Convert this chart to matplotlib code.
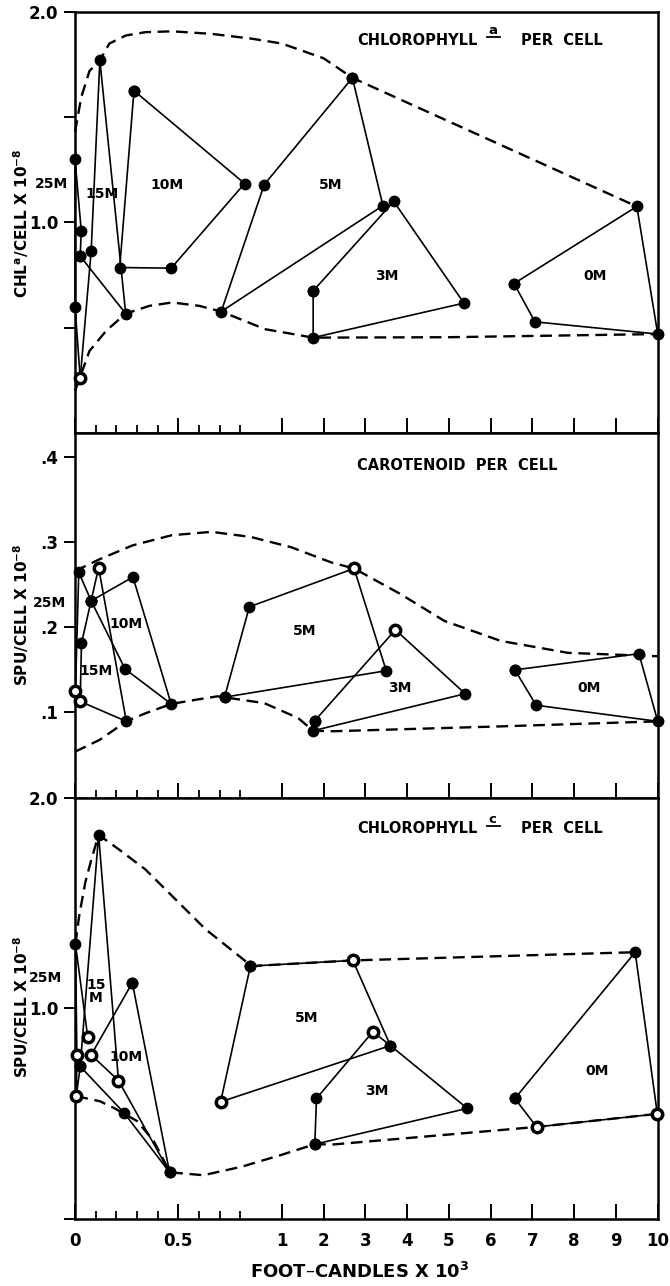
import numpy as np
import matplotlib
matplotlib.use("Agg")
import matplotlib.pyplot as plt

plt.rcParams['font.family'] = ['DejaVu Sans']
plt.rcParams['mathtext.fontset'] = 'dejavusans'

# ---------------- data (foot-candles x 10^3, per cell x 10^-8) ----------------
# chlorophyll a per cell
chla_25m_x = [0.025, 0.03, 0.0, 0.0, 0.025]
chla_25m_y = [0.84, 0.96, 1.30, 0.60, 0.26]
chla_15m_x = [0.025, 0.078, 0.12, 0.245, 0.025]
chla_15m_y = [0.26, 0.865, 1.77, 0.567, 0.84]
chla_10m_x = [0.285, 0.82, 0.465, 0.216, 0.285]
chla_10m_y = [1.626, 1.185, 0.783, 0.786, 1.626]
chla_5m_x = [2.69, 3.42, 0.707, 0.915, 2.69]
chla_5m_y = [1.687, 1.08, 0.577, 1.18, 1.687]
chla_3m_x = [1.75, 1.75, 5.36, 3.68, 1.75]
chla_3m_y = [0.675, 0.453, 0.617, 1.10, 0.675]
chla_0m_x = [6.56, 9.50, 10.0, 7.06, 6.56]
chla_0m_y = [0.71, 1.076, 0.47, 0.528, 0.71]
chla_hollow_x = [0.025]
chla_hollow_y = [0.26]
chla_upper_x = [0.0, 0.03, 0.07, 0.12, 0.166, 0.245, 0.34, 0.47, 0.66, 0.855, 1.0, 2.0, 2.69, 9.5]
chla_upper_y = [1.43, 1.595, 1.72, 1.77, 1.85, 1.888, 1.904, 1.908, 1.896, 1.873, 1.85, 1.78, 1.687, 1.076]
chla_lower_x = [0.0, 0.07, 0.15, 0.245, 0.36, 0.47, 0.6, 0.707, 0.92, 1.75, 5.0, 10.0]
chla_lower_y = [0.20, 0.39, 0.485, 0.567, 0.604, 0.62, 0.604, 0.577, 0.493, 0.453, 0.455, 0.47]

# carotenoid per cell
car_25m_x = [0.002, 0.018, 0.078]
car_25m_y = [0.125, 0.2645, 0.231]
car_15m_x = [0.114, 0.248, 0.025, 0.031, 0.114]
car_15m_y = [0.270, 0.0896, 0.113, 0.181, 0.270]
car_10m_x = [0.078, 0.28, 0.465, 0.242, 0.078]
car_10m_y = [0.231, 0.259, 0.110, 0.151, 0.231]
car_5m_x = [0.723, 0.843, 2.73, 3.50, 0.723]
car_5m_y = [0.118, 0.224, 0.269, 0.149, 0.118]
car_3m_x = [1.79, 3.72, 5.39, 1.75, 1.79]
car_3m_y = [0.0904, 0.197, 0.122, 0.0786, 0.0904]
car_0m_x = [6.58, 9.55, 10.0, 7.09, 6.58]
car_0m_y = [0.150, 0.169, 0.0896, 0.1085, 0.150]
car_hollow_x = [0.114, 0.002, 0.025, 2.73, 3.72]
car_hollow_y = [0.270, 0.125, 0.113, 0.269, 0.197]
car_upper_x = [0.0, 0.12, 0.277, 0.467, 0.66, 0.85, 1.22, 2.19, 2.73, 3.84, 4.89, 6.24, 7.85, 10.0]
car_upper_y = [0.266, 0.28, 0.296, 0.308, 0.312, 0.306, 0.294, 0.276, 0.269, 0.239, 0.2075, 0.184, 0.170, 0.166]
car_lower_x = [0.0, 0.12, 0.248, 0.34, 0.465, 0.6, 0.69, 0.915, 1.39, 1.75, 2.23, 6.24, 10.0]
car_lower_y = [0.054, 0.068, 0.0896, 0.099, 0.110, 0.1156, 0.119, 0.111, 0.0935, 0.0786, 0.078, 0.0837, 0.0896]

# chlorophyll c per cell
chlc_25m_x = [0.061, 0.002, 0.009, 0.006, 0.025]
chlc_25m_y = [0.867, 1.306, 0.78, 0.584, 0.725]
chlc_15m_x = [0.21, 0.114, 0.025, 0.237, 0.457]
chlc_15m_y = [0.658, 1.824, 0.725, 0.505, 0.223]
chlc_10m_x = [0.277, 0.078, 0.21, 0.457, 0.277]
chlc_10m_y = [1.122, 0.78, 0.658, 0.223, 1.122]
chlc_5m_x = [0.848, 0.704, 3.60, 2.70, 0.848]
chlc_5m_y = [1.201, 0.557, 0.824, 1.228, 1.201]
chlc_3m_x = [1.79, 1.83, 3.18, 3.60, 5.44, 1.79]
chlc_3m_y = [0.356, 0.573, 0.89, 0.824, 0.526, 0.356]
chlc_0m_x = [6.58, 9.46, 9.99, 7.10, 6.58]
chlc_0m_y = [0.573, 1.267, 0.50, 0.438, 0.573]
chlc_hollow_x = [0.061, 0.009, 0.078, 0.006, 0.21, 0.704, 2.70, 3.18, 7.10, 9.99]
chlc_hollow_y = [0.867, 0.78, 0.78, 0.584, 0.658, 0.557, 1.228, 0.89, 0.438, 0.50]
chlc_upper_x = [0.002, 0.02, 0.05, 0.08, 0.114, 0.213, 0.34, 0.63, 0.83, 0.848, 2.70, 9.46]
chlc_upper_y = [1.306, 1.44, 1.6, 1.71, 1.824, 1.754, 1.66, 1.377, 1.22, 1.201, 1.228, 1.267]
chlc_lower_x = [0.006, 0.12, 0.186, 0.30, 0.38, 0.43, 0.457, 0.62, 0.805, 0.99, 1.79, 2.24, 7.10, 9.99]
chlc_lower_y = [0.584, 0.56, 0.529, 0.466, 0.372, 0.278, 0.223, 0.209, 0.249, 0.303, 0.356, 0.355, 0.438, 0.50]

xtick_major = [0, 0.5, 1, 2, 3, 4, 5, 6, 7, 8, 9, 10]
xtick_labels = ['0', '0.5', '1', '2', '3', '4', '5', '6', '7', '8', '9', '10']
xtick_minor = [0.1, 0.2, 0.3, 0.4, 0.6, 0.7, 0.8]

# x axis: 0-1 stretched, 1-10 compressed
K = 0.202


def fwd(x):
    x = np.asarray(x, dtype=float)
    return np.where(x <= 1, x, 1 + (x - 1) * K)


def inv(u):
    u = np.asarray(u, dtype=float)
    return np.where(u <= 1, u, 1 + (u - 1) / K)


fig = plt.figure(figsize=(6.7, 12.86), dpi=100)
ax1 = fig.add_axes([0.112, 0.6633, 0.8697, 0.3274])
ax2 = fig.add_axes([0.112, 0.3797, 0.8697, 0.2836])
ax3 = fig.add_axes([0.112, 0.0519, 0.8697, 0.3278])

panels = [
    (ax1, [(chla_25m_x, chla_25m_y), (chla_15m_x, chla_15m_y), (chla_10m_x, chla_10m_y),
           (chla_5m_x, chla_5m_y), (chla_3m_x, chla_3m_y), (chla_0m_x, chla_0m_y)],
     (chla_hollow_x, chla_hollow_y), [(chla_upper_x, chla_upper_y), (chla_lower_x, chla_lower_y)]),
    (ax2, [(car_25m_x, car_25m_y), (car_15m_x, car_15m_y), (car_10m_x, car_10m_y),
           (car_5m_x, car_5m_y), (car_3m_x, car_3m_y), (car_0m_x, car_0m_y)],
     (car_hollow_x, car_hollow_y), [(car_upper_x, car_upper_y), (car_lower_x, car_lower_y)]),
    (ax3, [(chlc_25m_x, chlc_25m_y), (chlc_15m_x, chlc_15m_y), (chlc_10m_x, chlc_10m_y),
           (chlc_5m_x, chlc_5m_y), (chlc_3m_x, chlc_3m_y), (chlc_0m_x, chlc_0m_y)],
     (chlc_hollow_x, chlc_hollow_y), [(chlc_upper_x, chlc_upper_y), (chlc_lower_x, chlc_lower_y)]),
]

for ax, series, hollow, envelope in panels:
    ax.set_xscale('function', functions=(fwd, inv))
    ax.set_xlim(0, 10)
    for ex, ey in envelope:
        ax.plot(ex, ey, color='black', lw=1.7, dashes=(5, 2.8), zorder=2, clip_on=False,
                solid_joinstyle='round', dash_joinstyle='round')
    for sx, sy in series:
        ax.plot(sx, sy, color='black', lw=1.2, zorder=3, clip_on=False)
        ax.plot(sx, sy, 'o', color='black', ms=7.5, zorder=4, clip_on=False)
    ax.plot(hollow[0], hollow[1], 'o', ms=7.5, mfc='white', mec='black', mew=2.5,
            zorder=5, clip_on=False)
    ax.set_xticks(xtick_major)
    ax.set_xticks(xtick_minor, minor=True)
    ax.tick_params(axis='x', which='major', direction='in', length=10.5, width=1.4, pad=9)
    ax.tick_params(axis='x', which='minor', direction='in', length=5.5, width=1.3)
    ax.tick_params(axis='y', which='both', direction='out', length=8, width=1.4, pad=4,
                   labelsize=12)
    for sp in ax.spines.values():
        sp.set_linewidth(1.8)

ax1.set_xticklabels([])
ax2.set_xticklabels([])
ax3.set_xticklabels(xtick_labels, fontsize=12, fontweight='bold')

ax1.set_ylim(0, 2.0)
ax1.set_yticks([1.0, 2.0])
ax1.set_yticklabels(['1.0', '2.0'], fontweight='bold')
ax1.set_yticks([0.5, 1.5], minor=True)

ax2.set_ylim(0, 0.428)
ax2.set_yticks([0.1, 0.2, 0.3, 0.4])
ax2.set_yticklabels(['.1', '.2', '.3', '.4'], fontweight='bold')

ax3.set_ylim(0, 2.0)
ax3.set_yticks([0, 1.0, 2.0])
ax3.set_yticklabels(['', '1.0', '2.0'], fontweight='bold')

# y labels
fig.text(0.031, 1 - 223 / 1286, r'CHL$^{\mathbf{a}}$/CELL X 10$^{\mathbf{-8}}$', rotation=90,
         ha='center', va='center', fontsize=11, fontweight='bold')
fig.text(0.031, 1 - 615 / 1286, r'SPU/CELL X 10$^{\mathbf{-8}}$', rotation=90,
         ha='center', va='center', fontsize=11, fontweight='bold')
fig.text(0.031, 1 - 1007 / 1286, r'SPU/CELL X 10$^{\mathbf{-8}}$', rotation=90,
         ha='center', va='center', fontsize=11, fontweight='bold')
fig.text(360 / 670, 1 - 1272 / 1286, 'FOOT\u2013CANDLES X 10$^{\\mathbf{3}}$',
         ha='center', va='center', fontsize=13, fontweight='bold')

# panel titles
for ax, y, sup in [(ax1, 0.933, 'a'), (ax3, 0.927, 'c')]:
    ax.text(0.484, y, 'CHLOROPHYLL', transform=ax.transAxes, fontsize=10.5,
            fontweight='bold', va='center', ha='left')
    ax.text(0.710, y + 0.022, sup, transform=ax.transAxes, fontsize=9.5, fontweight='bold',
            va='center', ha='left')
    ax.plot([0.707, 0.730], [y + 0.007, y + 0.007], transform=ax.transAxes, color='black',
            lw=1.3, clip_on=False)
    ax.text(0.766, y, 'PER  CELL', transform=ax.transAxes, fontsize=10.5, fontweight='bold',
            va='center', ha='left')
ax2.text(0.484, 0.912, 'CAROTENOID  PER  CELL', transform=ax2.transAxes, fontsize=10.5,
         fontweight='bold', va='center', ha='left')

# depth labels
lkw = dict(fontsize=10, fontweight='bold', ha='center', va='center')
ax1.text(-0.04, 0.591, '25M', transform=ax1.transAxes, clip_on=False, **lkw)
ax1.text(0.13, 1.137, '15M', **lkw)
ax1.text(0.443, 1.18, '10M', **lkw)
ax1.text(2.18, 1.18, '5M', **lkw)
ax1.text(3.51, 0.747, '3M', **lkw)
ax1.text(8.51, 0.747, '0M', **lkw)

ax2.text(-0.044, 0.535, '25M', transform=ax2.transAxes, clip_on=False, **lkw)
ax2.text(0.10, 0.149, '15M', **lkw)
ax2.text(0.245, 0.204, '10M', **lkw)
ax2.text(1.55, 0.196, '5M', **lkw)
ax2.text(3.83, 0.129, '3M', **lkw)
ax2.text(8.35, 0.129, '0M', **lkw)

ax3.text(-0.05, 0.572, '25M', transform=ax3.transAxes, clip_on=False, **lkw)
ax3.text(0.10, 1.08, '15\nM', linespacing=0.9, **lkw)
ax3.text(0.245, 0.77, '10M', **lkw)
ax3.text(1.59, 0.953, '5M', **lkw)
ax3.text(3.28, 0.609, '3M', **lkw)
ax3.text(8.55, 0.703, '0M', **lkw)

fig.savefig('out.png', dpi=100)
